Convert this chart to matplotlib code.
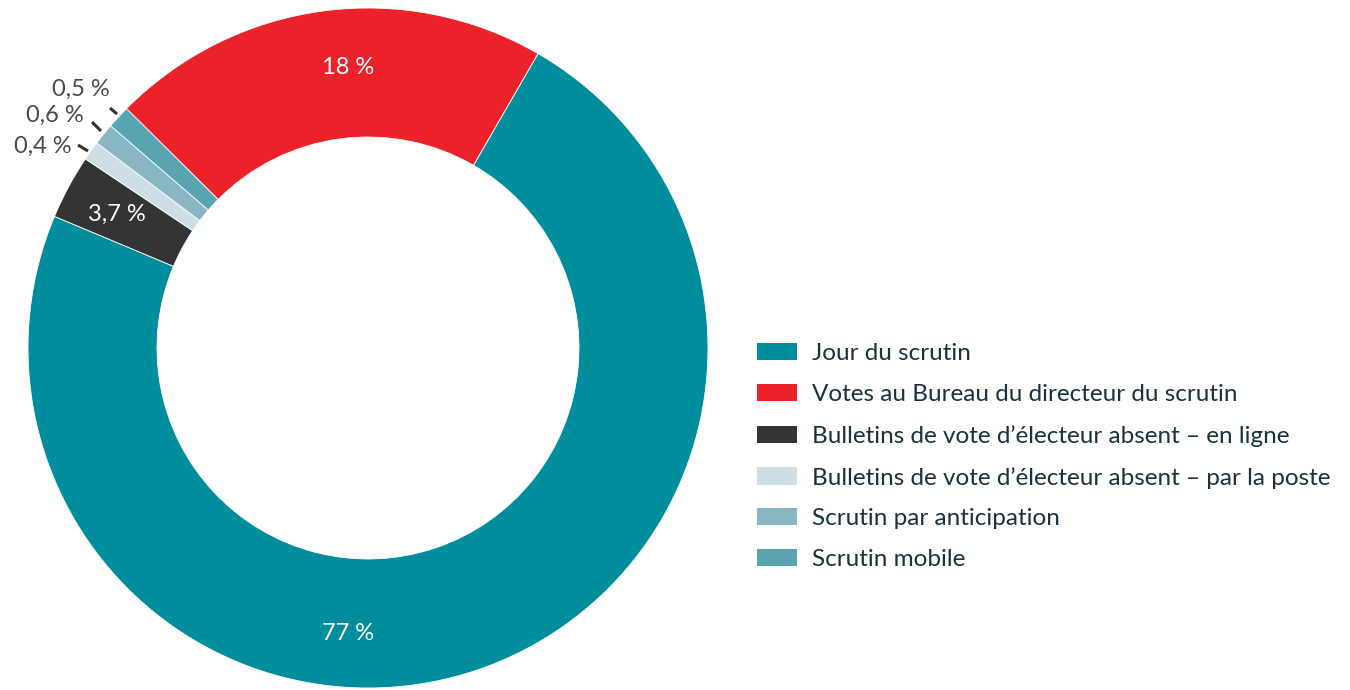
import matplotlib
matplotlib.use("Agg")
from matplotlib import pyplot as plt
from matplotlib.patches import Patch

# categories in legend order
categories = [
    "Jour du scrutin",
    "Votes au Bureau du directeur du scrutin",
    "Bulletins de vote d\u2019électeur absent \u2013 en ligne",
    "Bulletins de vote d\u2019électeur absent \u2013 par la poste",
    "Scrutin par anticipation",
    "Scrutin mobile",
]
# wedge sizes as drawn in the picture (%), and the printed labels
shares = [73.0, 20.9, 3.06, 0.92, 1.03, 1.1]
value_labels = ["77 %", "18 %", "3,7 %", "0,4 %", "0,6 %", "0,5 %"]
colors = ["#008e9c", "#ec222a", "#333535", "#cddee4", "#88b7c2", "#58a4b1"]

# clockwise drawing order, starting at the top right
draw_order = [0, 2, 3, 4, 5, 1]

plt.rcParams['font.family'] = ['Lato', 'DejaVu Sans']

fig = plt.figure(figsize=(13.5, 6.9), dpi=100)
cx, cy, R = 368, 348, 340
ax = fig.add_axes([(cx - R) / 1350, (690 - cy - R) / 690, 2 * R / 1350, 2 * R / 690])

wedges, _ = ax.pie([shares[i] for i in draw_order],
                   colors=[colors[i] for i in draw_order],
                   startangle=60, counterclock=False, radius=1,
                   wedgeprops=dict(width=1 - 211 / 340, edgecolor='white', linewidth=0.6))
ax.set_xlim(-1, 1)
ax.set_ylim(-1, 1)
ax.axis('off')


def px(x, y):
    return (x - cx) / R, (cy - y) / R


# labels inside the ring (white)
for i, (x, y) in [(0, (348, 633)), (1, (348, 67)), (2, (117, 214))]:
    ax.text(*px(x, y), value_labels[i], color='white', fontsize=17,
            ha='center', va='center')

# small slices: labels outside with short leader lines
outside = [(3, (43, 146), ((78, 145), (88, 151))),
           (4, (55, 115), ((92, 122), (101, 131))),
           (5, (81, 89), ((110, 108), (117, 114)))]
for i, (x, y), (p0, p1) in outside:
    ax.text(*px(x, y), value_labels[i], color='#4a4a4a', fontsize=17,
            ha='center', va='center')
    (x0, y0), (x1, y1) = px(*p0), px(*p1)
    ax.plot([x0, x1], [y0, y1], color='#333333', lw=2.2, solid_capstyle='butt')

handles = [Patch(facecolor=c, edgecolor='none') for c in colors]
fig.legend(handles, categories, loc='upper left',
           bbox_to_anchor=(757 / 1350, 1 - 343 / 690), frameon=False,
           fontsize=17.5, labelcolor='#17333d', handlelength=1.65,
           handleheight=0.70, handletextpad=0.62, labelspacing=0.82,
           borderpad=0, borderaxespad=0)

fig.savefig('out.png', dpi=100)
